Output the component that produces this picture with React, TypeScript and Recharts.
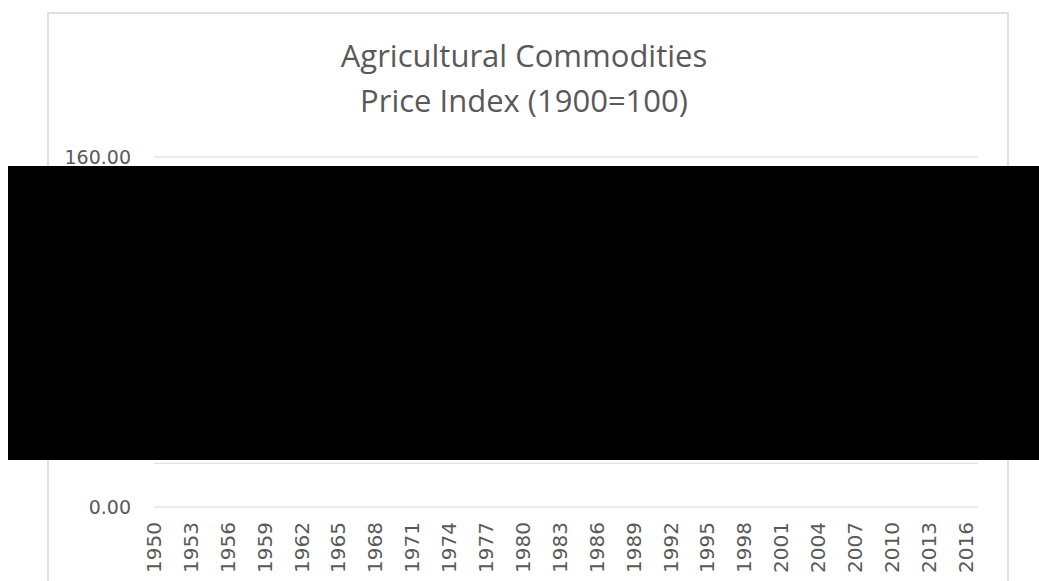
import React from "react";
import { LineChart, Line, XAxis, YAxis, CartesianGrid } from "recharts";

const years: string[] = [
  "1950","1951","1952","1953","1954","1955","1956","1957","1958","1959",
  "1960","1961","1962","1963","1964","1965","1966","1967","1968","1969",
  "1970","1971","1972","1973","1974","1975","1976","1977","1978","1979",
  "1980","1981","1982","1983","1984","1985","1986","1987","1988","1989",
  "1990","1991","1992","1993","1994","1995","1996","1997","1998","1999",
  "2000","2001","2002","2003","2004","2005","2006","2007","2008","2009",
  "2010","2011","2012","2013","2014","2015","2016","2017",
];

// Estimated values (the series is hidden behind the redaction box in the reference)
const priceIndex: number[] = [
  128, 140, 122, 115, 120, 112, 110, 106, 102, 103,
  101, 97, 95, 100, 101, 96, 96, 91, 90, 93,
  92, 88, 94, 124, 132, 110, 108, 114, 100, 99,
  96, 85, 74, 78, 78, 67, 66, 63, 68, 65,
  61, 58, 57, 57, 62, 63, 63, 62, 55, 48,
  46, 44, 46, 48, 50, 49, 52, 58, 64, 57,
  64, 74, 70, 66, 62, 53, 54, 55,
];

// Gridline values; only the end labels are visible in the reference
const yTicks: number[] = [0, 20, 40, 60, 80, 100, 120, 140, 160];
const yLabelled: number[] = [0, 160];

const titleLines: string[] = ["Agricultural Commodities", "Price Index (1900=100)"];

const data = years.map((y, i) => ({ year: y, value: priceIndex[i] }));

const TEXT = "#595959";
const GRID = "#d9d9d9";
const FONT = "'DejaVu Sans', sans-serif";

const XTick = (props: any) => {
  const { x, y, payload } = props;
  return (
    <g transform={`translate(${x},${y})`}>
      <text
        transform="rotate(-90)"
        textAnchor="end"
        dominantBaseline="central"
        fill={TEXT}
        fontSize={20}
        fontFamily={FONT}
      >
        {payload.value}
      </text>
    </g>
  );
};

export default function App() {
  return (
    <div style={{ position: "absolute", left: 0, top: 0, width: 1039, height: 581, overflow: "hidden", background: "#fff" }}>
      <div
        style={{
          position: "absolute",
          left: 47,
          top: 12,
          width: 962,
          height: 620,
          border: `2px solid #e0e0e0`,
          boxSizing: "border-box",
        }}
      />
      <svg width={1039} height={581} style={{ position: "absolute", left: 0, top: 0 }}>
        {titleLines.map((t, i) => (
          <text
            key={i}
            x={524}
            y={67 + i * 45}
            textAnchor="middle"
            fill={TEXT}
            fontSize={31}
            fontWeight={400}
            fontFamily="'Open Sans', sans-serif"
          >
            {t}
          </text>
        ))}
      </svg>
      <div style={{ position: "absolute", left: 0, top: 0 }}>
        <LineChart
          width={1039}
          height={600}
          data={data}
          margin={{ top: 157, right: 61, left: 0, bottom: 13 }}
        >
          <CartesianGrid vertical={false} stroke={GRID} strokeWidth={1} />
          <XAxis
            dataKey="year"
            type="category"
            interval={2}
            axisLine={false}
            tickLine={false}
            tickSize={0}
            tickMargin={15}
            height={80}
            tick={<XTick />}
          />
          <YAxis
            width={154}
            domain={[0, 160]}
            ticks={yTicks}
            axisLine={false}
            tickLine={false}
            tickSize={0}
            tickMargin={23}
            tickFormatter={(v: number) => (yLabelled.includes(v) ? v.toFixed(2) : "")}
            tick={{ fill: TEXT, fontSize: 19, fontFamily: FONT }}
          />
          <Line
            type="linear"
            dataKey="value"
            stroke="#4472C4"
            strokeWidth={3}
            dot={false}
            isAnimationActive={false}
          />
        </LineChart>
      </div>
      <div
        style={{
          position: "absolute",
          left: 8,
          top: 166,
          width: 1031,
          height: 294,
          background: "#000",
        }}
      />
    </div>
  );
}
